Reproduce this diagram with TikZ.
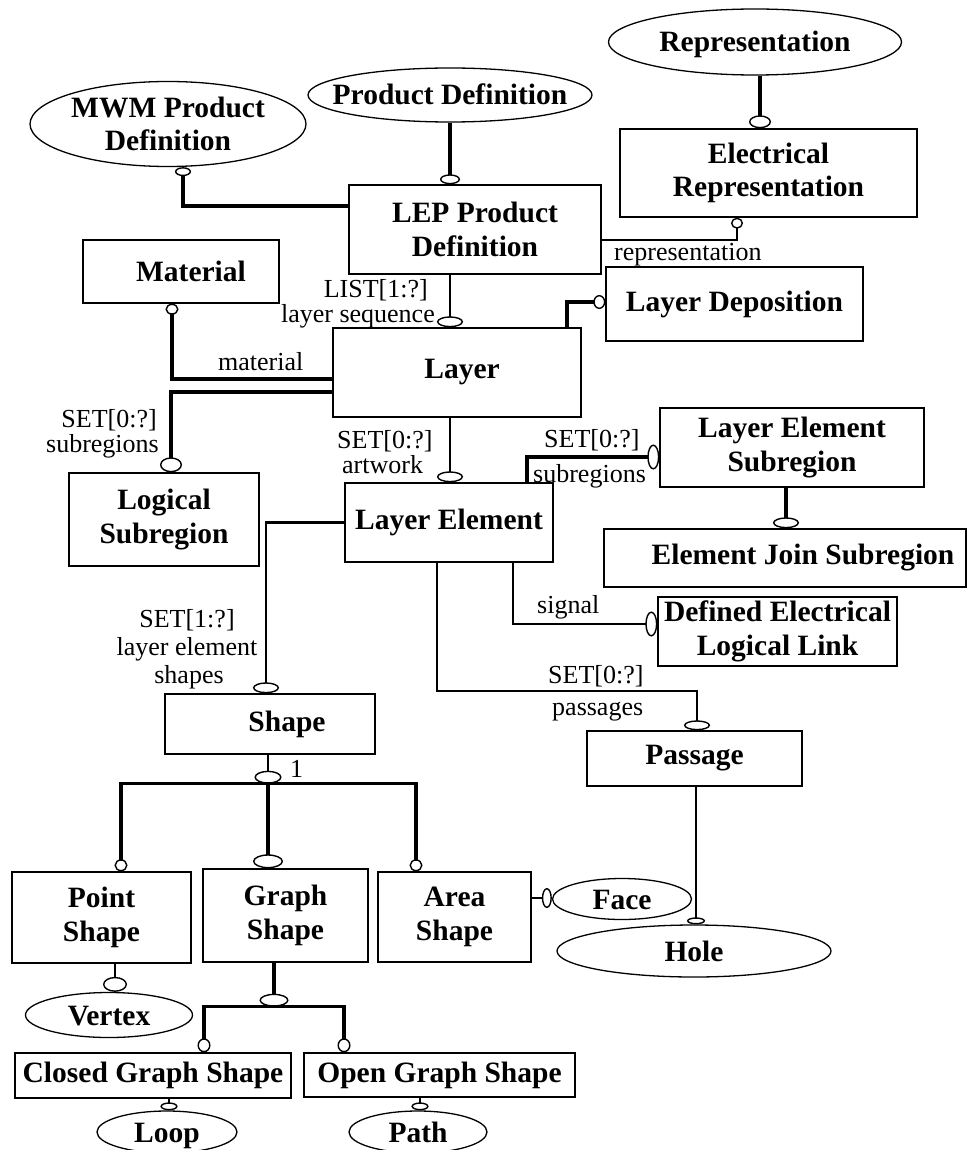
\documentclass[tikz,border=0pt]{standalone}
\usepackage{fontspec}
\setmainfont{Liberation Serif}
\usetikzlibrary{arrows.meta,shapes.geometric}
\begin{document}
\begin{tikzpicture}[x=1pt,y=-1pt,
  ent/.style={draw, line width=1.4pt, rectangle, inner sep=0pt, align=center,
    font=\fontsize{29.5}{33.5}\selectfont\bfseries},
  sel/.style={draw, line width=1.3pt, ellipse, inner xsep=-25pt, inner ysep=-4pt,
    align=center, font=\fontsize{29.5}{33.5}\selectfont\bfseries},
  one line/.style={text height=26pt, text depth=6pt},
  lbl/.style={inner sep=0pt, font=\fontsize{26}{27}\selectfont},
  thin link/.style={line width=2.3pt},
  thick link/.style={line width=3.2pt},
  oc/.style 2 args={-{Circle[fill=white, width=#1, length=#2, line width=1.4pt 0 0]}},
]
\useasboundingbox (0,0) rectangle (968,1150);

% entities (boxes) and external schema references (ellipses)
\node[sel, minimum width=276pt, minimum height=85pt] (mwm) at (168,124) {MWM Product\\Definition};
\node[sel, one line, minimum width=284pt, minimum height=54pt] (pdef) at (450,95) {Product Definition};
\node[sel, one line, minimum width=293pt, minimum height=66pt] (rep) at (755,42) {Representation};
\node[ent, minimum width=252pt, minimum height=89pt] (lep) at (475,229.5) {LEP Product\\Definition};
\node[ent, minimum width=297pt, minimum height=88pt] (erep) at (768.5,173) {Electrical\\Representation};
\node[ent, minimum width=196pt, minimum height=63pt] (mat) at (181,271.5) {\hspace*{20pt}Material};
\node[ent, minimum width=257pt, minimum height=74pt] (ldep) at (734.5,304) {Layer Deposition};
\node[ent, minimum width=248pt, minimum height=89pt] (layer) at (457,372.5) {\hspace*{10pt}Layer};
\node[ent, minimum width=190pt, minimum height=93pt] (lsub) at (164,519.5) {Logical\\Subregion};
\node[ent, minimum width=208pt, minimum height=79pt] (le) at (449,522.5) {Layer Element};
\node[ent, minimum width=264pt, minimum height=79pt] (les) at (792,447.5) {Layer Element\\Subregion};
\node[ent, minimum width=362pt, minimum height=58pt] (ejs) at (785,558) {\hspace*{36pt}Element Join Subregion};
\node[ent, minimum width=239pt, minimum height=69pt] (dell) at (777.5,631.5) {Defined Electrical\\Logical Link};
\node[ent, minimum width=210pt, minimum height=60pt] (shape) at (270,724) {\hspace*{34pt}Shape};
\node[ent, minimum width=215pt, minimum height=55pt] (passage) at (694.5,758.5) {Passage};
\node[ent, minimum width=179pt, minimum height=91pt] (pshape) at (101.5,917.5) {Point\\Shape};
\node[ent, minimum width=165pt, minimum height=93pt] (gshape) at (285.5,915.5) {Graph\\Shape};
\node[ent, minimum width=153pt, minimum height=90pt] (ashape) at (454.5,917) {Area\\Shape};
\node[sel, one line, minimum width=139pt, minimum height=41pt] (face) at (622,899) {Face};
\node[sel, one line, minimum width=274pt, minimum height=52pt] (hole) at (694,951) {Hole};
\node[sel, one line, minimum width=167pt, minimum height=45pt] (vertex) at (109,1015) {Vertex};
\node[ent, minimum width=276pt, minimum height=45pt] (cgs) at (153,1075.5) {Closed Graph Shape};
\node[ent, minimum width=271pt, minimum height=44pt] (ogs) at (439.5,1075) {Open Graph Shape};
\node[sel, one line, minimum width=140pt, minimum height=42pt] (loop) at (167,1132) {Loop};
\node[sel, one line, minimum width=138pt, minimum height=42pt] (path) at (418,1132) {Path};

% relationships, the open circle marks the referenced end
\draw[thick link, oc={20pt}{10pt}] (pdef.south) -- (pdef.south |- lep.north);
\draw[thick link, oc={16pt}{9pt}] ([yshift=23.5pt]lep.west) -| ([xshift=15pt]mwm.south);
\draw[line width=4pt, oc={22pt}{13pt}] ([xshift=5pt]rep.south) -- ([xshift=5pt]rep.south |- erep.north);
\draw[thin link, oc={12pt}{11pt}] ([yshift=-10.5pt]lep.east) -| ([xshift=-31.5pt]erep.south);
\draw[thin link, oc={26pt}{11pt}] ([xshift=-25pt]lep.south) -- ([xshift=-25pt]lep.south |- layer.north);
\draw[thick link, oc={14pt}{12pt}] ([xshift=110pt]layer.north) |- ([yshift=2pt]ldep.west);
\draw[thick link, oc={13pt}{11pt}] ([yshift=-6.5pt]layer.west) -| ([xshift=-9pt]mat.south);
\draw[thick link, oc={22pt}{15pt}] ([yshift=-19.5pt]layer.west) -| ([xshift=7pt]lsub.north);
\draw[thin link, oc={26pt}{11pt}] ([xshift=-7pt]layer.south) -- ([xshift=-7pt]layer.south |- le.north);
\draw[thick link, oc={25pt}{12pt}] ([xshift=78pt]le.north) |- ([yshift=-9.5pt]les.west);
\draw[thick link, oc={26pt}{11pt}] ([xshift=-6pt]les.south) -- ([xshift=-6pt]les.south |- ejs.north);
\draw[thin link, oc={25pt}{12pt}] ([xshift=64pt]le.south) |- ([yshift=7.5pt]dell.west);
\draw[thin link, oc={26pt}{10pt}] ([xshift=-12pt]le.south) -- ++(0,128) -| ([xshift=2.5pt]passage.north);
\draw[thin link, oc={26pt}{11pt}] (le.west) -| ([xshift=-4pt]shape.north);

% Shape subtypes
\draw[thin link, oc={27pt}{13pt}] ([xshift=-2pt]shape.south) -- ++(0,29) coordinate (sj);
\draw[thick link, oc={13pt}{12pt}] (sj) -| ([xshift=19.5pt]pshape.north);
\draw[thick link, oc={30pt}{14pt}] (sj) -- (sj |- gshape.north);
\draw[thick link, oc={13pt}{12pt}] (sj) -| ([xshift=-38.5pt]ashape.north);
\draw[thin link, oc={24pt}{15pt}] ([xshift=13.5pt]pshape.south) -- ([xshift=13.5pt]pshape.south |- vertex.north);
\draw[thin link, oc={20pt}{10pt}] ([yshift=19pt]ashape.east) -- ([yshift=19pt]ashape.east -| face.west);
\draw[thin link, oc={18pt}{7pt}] ([xshift=1.5pt]passage.south) -- ([xshift=1.5pt]passage.south |- hole.north);

% Graph Shape subtypes
\draw[thick link, oc={29pt}{13pt}] ([xshift=-11.5pt]gshape.south) -- ++(0,44) coordinate (gj);
\draw[thick link, oc={13pt}{14pt}] (gj) -| ([xshift=51pt]cgs.north);
\draw[thick link, oc={13pt}{14pt}] (gj) -| ([xshift=-95.5pt]ogs.north);
\draw[thin link, oc={17pt}{8pt}] ([xshift=16pt]cgs.south) -- ([xshift=16pt]cgs.south |- loop.north);
\draw[thin link, oc={17pt}{8pt}] ([xshift=-19.5pt]ogs.south) -- ([xshift=-19.5pt]ogs.south |- path.north);

% role names and cardinalities
\node[lbl, anchor=base west] (l-rep) at (614,260) {representation};
\node[lbl, anchor=base east] (l-list) at (428,297) {LIST[1:?]};
\node[lbl, anchor=base east] (l-seq) at (435,322) {layer sequence};
\node[lbl, anchor=base west] (l-mat) at (218,370) {material};
\node[lbl, anchor=base east] (l-set1) at (157,427) {SET[0:?]};
\node[lbl, anchor=base east] (l-sub1) at (159,452) {subregions};
\node[lbl, anchor=base west] (l-set2) at (337,448) {SET[0:?]};
\node[lbl, anchor=base west] (l-art) at (342,473) {artwork};
\node[lbl, anchor=base west] (l-set3) at (544,447) {SET[0:?]};
\node[lbl, anchor=base west] (l-sub2) at (533,482) {subregions};
\node[lbl, anchor=base west] (l-sig) at (537,613) {signal};
\node[lbl, anchor=base west] (l-set4) at (548,683) {SET[0:?]};
\node[lbl, anchor=base west] (l-pas) at (552,715) {passages};
\node[lbl, anchor=base] (l-set5) at (187,627) {SET[1:?]};
\node[lbl, anchor=base] (l-les) at (187,655) {layer element};
\node[lbl, anchor=base] (l-shp) at (189,683) {shapes};
\node[lbl, anchor=base west] (l-one) at (290,777) {1};
\end{tikzpicture}
\end{document}
